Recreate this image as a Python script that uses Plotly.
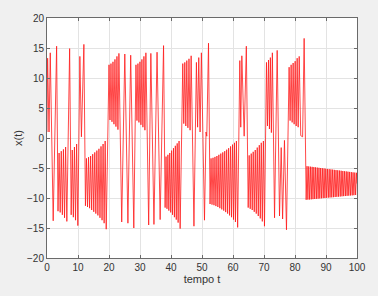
import plotly.graph_objects as go

# Turning points of x(t), phase by phase
tA = [0.0, 0.2, 0.65, 1.05, 2.0, 3.1, 3.55, 3.9, 4.25, 4.6, 4.95, 5.3, 5.65, 6.0, 6.4]
xA = [1.0, 13.3, 1.0, 14.2, -13.8, 15.3, -12.2, -2.5, -12.4, -2.2, -12.8, -1.9, -13.3, -1.5, -13.9]

tB = [7.3, 7.8, 8.15, 8.5, 8.85, 9.2, 9.55, 9.95, 10.6, 11.1, 11.9]
xB = [14.9, -12.8, -2.0, -13.2, -1.5, -13.7, -1.0, -14.6, 13.6, 0.2, 15.6]

tC = [12.4, 12.73, 13.07, 13.4, 13.74, 14.07, 14.41, 14.74, 15.08, 15.41, 15.75,
      16.08, 16.42, 16.75, 17.09, 17.42, 17.76, 18.09, 18.43, 18.76, 19.1]
xC = [-11.3, -3.4, -11.5, -3.2, -11.7, -3.0, -12.0, -2.7, -12.3, -2.4, -12.6,
      -2.1, -12.9, -1.8, -13.3, -1.4, -13.7, -1.0, -14.2, -0.5, -15.2]

tD = [20.0, 20.32, 20.64, 20.96, 21.28, 21.6, 21.92, 22.24, 22.56, 22.88, 23.2,
      24.1, 25.1, 26.1, 27.0, 28.0]
xD = [12.2, 3.0, 12.4, 2.7, 12.7, 2.3, 13.1, 1.9, 13.6, 1.4, 14.1,
      -14.0, 14.0, -14.2, 13.8, -15.0]

tE = [28.7, 29.02, 29.34, 29.66, 29.98, 30.3, 30.62, 30.94, 31.26, 31.58, 31.9,
      32.8, 33.5, 34.5, 35.5, 36.5, 37.6]
xE = [12.2, 2.9, 12.4, 2.6, 12.7, 2.2, 13.1, 1.8, 13.6, 1.3, 14.2,
      -14.5, 14.1, -14.4, 14.3, -13.6, 15.4]

tF = [38.1, 38.4, 38.7, 39.0, 39.3, 39.6, 39.9, 40.2, 40.5, 40.8, 41.1, 41.4,
      41.7, 42.0, 42.3, 42.6, 42.95]
xF = [-11.6, -3.1, -11.8, -2.8, -12.1, -2.5, -12.4, -2.1, -12.8, -1.7, -13.2, -1.3,
      -13.6, -0.9, -14.1, -0.5, -15.1]

tG = [43.8, 44.12, 44.45, 44.78, 45.1, 45.45, 45.8, 46.15, 46.5, 47.4, 48.2, 48.58,
      48.95, 49.38, 49.8, 50.8, 51.3, 51.55, 52.1]
xG = [12.4, 2.4, 12.6, 2.0, 12.9, 1.7, 13.2, 1.3, 13.7, -14.7, 12.6, 1.8,
      13.4, 1.0, 14.2, -13.7, 1.0, 0.3, 15.8]

tH = [52.6, 52.92, 53.23, 53.55, 53.86, 54.18, 54.49, 54.81, 55.12, 55.44, 55.75,
      56.07, 56.38, 56.7, 57.01, 57.33, 57.64, 57.96, 58.27, 58.59, 58.9, 59.22,
      59.53, 59.85, 60.16, 60.48, 60.79, 61.1, 61.5]
xH = [-11.0, -3.4, -11.1, -3.3, -11.2, -3.15, -11.35, -3.0, -11.5, -2.8, -11.7,
      -2.6, -11.9, -2.4, -12.1, -2.2, -12.35, -1.95, -12.6, -1.7, -12.9, -1.4,
      -13.2, -1.1, -13.6, -0.8, -14.0, -0.5, -14.9]

tI = [62.2, 62.5, 62.85, 63.6, 64.3]
xI = [12.9, 1.8, 13.7, 0.3, 15.3]

tJ = [64.9, 65.22, 65.55, 65.88, 66.2, 66.52, 66.85, 67.18, 67.5, 67.82, 68.15,
      68.48, 68.8, 69.12, 69.45, 69.8, 70.15]
xJ = [-11.6, -2.9, -11.8, -2.6, -12.0, -2.3, -12.3, -2.0, -12.6, -1.6, -13.0,
      -1.2, -13.4, -0.8, -13.9, -0.5, -14.7]

tK = [70.8, 71.12, 71.45, 71.75, 72.05, 72.38, 72.7, 73.4, 74.25, 75.0, 75.55,
      76.0, 76.6, 77.25]
xK = [12.6, 2.0, 13.0, 1.5, 13.4, 0.9, 14.2, -13.3, 14.6, -13.0, -1.6,
      -13.5, -0.4, -15.3]

tL = [78.1, 78.42, 78.75, 79.08, 79.4, 79.72, 80.05, 80.38, 80.7, 81.02, 81.35,
      81.85, 82.45, 82.95]
xL = [11.8, 2.9, 12.2, 2.6, 12.5, 2.3, 12.8, 2.0, 13.3, 1.8, 13.6,
      0.4, 0.2, 16.6]

# final damped oscillation: troughs and crests
t_low = [83.6, 84.15, 84.7, 85.25, 85.8, 86.35, 86.9, 87.45, 88.0, 88.55, 89.1,
         89.65, 90.2, 90.75, 91.3, 91.85, 92.4, 92.95, 93.5, 94.05, 94.6, 95.15,
         95.7, 96.25, 96.8, 97.35, 97.9, 98.45, 99.0, 99.55]
x_low = [-10.3, -10.27, -10.25, -10.22, -10.19, -10.16, -10.14, -10.11, -10.08,
         -10.05, -10.02, -10.0, -9.97, -9.94, -9.91, -9.89, -9.86, -9.83, -9.8,
         -9.78, -9.75, -9.72, -9.69, -9.67, -9.64, -9.61, -9.58, -9.56, -9.53, -9.5]
t_high = [83.88, 84.43, 84.98, 85.53, 86.08, 86.63, 87.18, 87.73, 88.28, 88.83,
          89.38, 89.93, 90.48, 91.03, 91.58, 92.13, 92.68, 93.23, 93.78, 94.33,
          94.88, 95.43, 95.98, 96.53, 97.08, 97.63, 98.18, 98.73, 99.28, 99.83]
x_high = [-4.7, -4.74, -4.78, -4.81, -4.85, -4.89, -4.93, -4.97, -5.0, -5.04,
          -5.08, -5.12, -5.16, -5.19, -5.23, -5.27, -5.31, -5.35, -5.38, -5.42,
          -5.46, -5.5, -5.54, -5.57, -5.61, -5.65, -5.69, -5.73, -5.76, -5.8]
t_end = [100.0]
x_end = [-7.6]

x_ticks = [0, 10, 20, 30, 40, 50, 60, 70, 80, 90, 100]
y_ticks = [-20, -15, -10, -5, 0, 5, 10, 15, 20]

tM, xM = [], []
for a, b, c, d in zip(t_low, x_low, t_high, x_high):
    tM += [a, c]
    xM += [b, d]
tM += t_end
xM += x_end

segments = [(tA, xA), (tB, xB), (tC, xC), (tD, xD), (tE, xE), (tF, xF), (tG, xG),
            (tH, xH), (tI, xI), (tJ, xJ), (tK, xK), (tL, xL), (tM, xM)]
t_all, x_all = [], []
for ts, xs in segments:
    assert len(ts) == len(xs)
    t_all += ts
    x_all += xs

fig = go.Figure(go.Scatter(x=t_all, y=x_all, mode="lines",
                           line=dict(color="#ff1a1a", width=0.8)))

ax = dict(showgrid=True, gridcolor="#e3e3e3", gridwidth=1, zeroline=False,
          showline=True, linecolor="#6a6a6a", linewidth=1, mirror="ticks",
          ticks="inside", ticklen=3, tickcolor="#6a6a6a",
          tickfont=dict(size=10, color="#333333"))

fig.update_layout(
    width=378, height=296,
    margin=dict(l=47, r=12, t=12, b=33),
    paper_bgcolor="#f0f0f0", plot_bgcolor="#ffffff",
    showlegend=False,
    font=dict(family="Liberation Sans, Arial, sans-serif", color="#333333"),
    xaxis=dict(range=[0, 100], tickvals=x_ticks,
               title=dict(text="tempo t", font=dict(size=11), standoff=3), **ax),
    yaxis=dict(range=[-20, 20], tickvals=y_ticks,
               title=dict(text="x(t)", font=dict(size=11), standoff=2), **ax),
)

fig.write_html("out.html")
